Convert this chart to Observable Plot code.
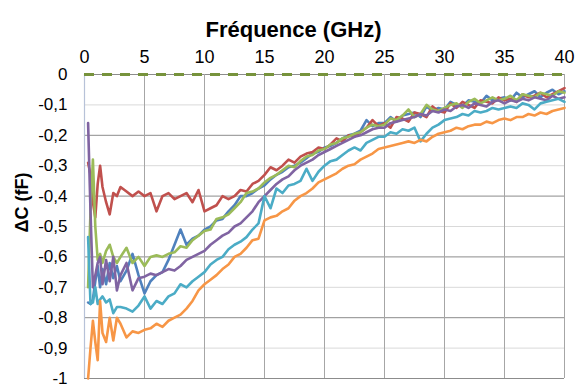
<!DOCTYPE html>
<html>
<head>
<meta charset="utf-8">
<script src="https://cdn.jsdelivr.net/npm/d3@7"></script>
<script src="https://cdn.jsdelivr.net/npm/@observablehq/plot@0.6"></script>
<style>
  html, body { margin: 0; padding: 0; background: #fff; }
  #chart svg { display: block; font-family: "Liberation Sans", Arial, sans-serif; }
</style>
</head>
<body>
<div id="chart"></div>
<script>
const title = "Fréquence (GHz)";
const yLabel = "ΔC (fF)";
const xTicks = [0, 5, 10, 15, 20, 25, 30, 35, 40];
const yTicks = [-1, -0.9, -0.8, -0.7, -0.6, -0.5, -0.4, -0.3, -0.2, -0.1, 0];
const yTickLabels = ["-1", "-0,9", "-0,8", "-0,7", "-0,6", "-0,5", "-0,4", "-0,3", "-0,2", "-0,1", "0"];

const freq = [0.3,0.5,0.7,0.9,1.1,1.3,1.5,1.8,2.1,2.4,2.7,
  3,3.5,4,4.5,5,5.5,6,6.5,7,7.5,8,8.5,9,9.5,10,10.5,11,11.5,12,12.5,13,13.5,14,14.5,
  15,15.5,16,16.5,17,17.5,18,18.5,19,19.5,20,20.5,21,21.5,22,22.5,23,23.5,24,24.5,
  25,25.5,26,26.5,27,27.5,28,28.5,29,29.5,30,30.5,31,31.5,32,32.5,33,33.5,34,34.5,
  35,35.5,36,36.5,37,37.5,38,38.5,39,39.5,40];

const seriesA = [-0.75,-0.755,-0.74,-0.68,-0.63,-0.70,-0.64,-0.69,-0.62,-0.67,-0.63,
  -0.68,-0.645,-0.59,-0.66,-0.72,-0.68,-0.66,-0.65,-0.61,-0.56,-0.51,-0.56,-0.54,-0.53,-0.51,-0.50,-0.48,-0.475,-0.45,-0.43,-0.40,-0.40,-0.39,-0.375,
  -0.365,-0.345,-0.33,-0.32,-0.305,-0.30,-0.29,-0.275,-0.26,-0.255,-0.24,-0.235,-0.225,-0.21,-0.20,-0.195,-0.185,-0.15,-0.17,-0.16,
  -0.16,-0.14,-0.155,-0.135,-0.13,-0.125,-0.14,-0.105,-0.12,-0.11,-0.115,-0.09,-0.10,-0.105,-0.085,-0.09,-0.095,-0.07,-0.085,-0.08,
  -0.075,-0.085,-0.06,-0.075,-0.065,-0.055,-0.075,-0.06,-0.05,-0.065,-0.055];

const seriesB = [-0.29,-0.33,-0.42,-0.47,-0.36,-0.30,-0.37,-0.42,-0.46,-0.39,-0.40,
  -0.37,-0.385,-0.40,-0.385,-0.40,-0.39,-0.45,-0.40,-0.39,-0.41,-0.40,-0.39,-0.42,-0.38,-0.45,-0.44,-0.43,-0.40,-0.41,-0.40,-0.38,-0.385,-0.36,-0.35,
  -0.33,-0.305,-0.315,-0.30,-0.28,-0.29,-0.27,-0.26,-0.255,-0.24,-0.245,-0.23,-0.21,-0.22,-0.20,-0.205,-0.19,-0.175,-0.15,-0.17,
  -0.16,-0.175,-0.14,-0.145,-0.155,-0.125,-0.13,-0.14,-0.105,-0.12,-0.125,-0.095,-0.11,-0.09,-0.10,-0.11,-0.085,-0.09,-0.095,-0.075,
  -0.085,-0.08,-0.09,-0.065,-0.075,-0.07,-0.06,-0.075,-0.065,-0.055,-0.045];

const seriesC = [-0.70,-0.45,-0.28,-0.50,-0.61,-0.59,-0.62,-0.58,-0.56,-0.60,-0.62,
  -0.60,-0.57,-0.62,-0.60,-0.63,-0.60,-0.595,-0.60,-0.59,-0.585,-0.565,-0.57,-0.545,-0.53,-0.515,-0.51,-0.475,-0.47,-0.46,-0.44,-0.42,-0.39,-0.385,-0.375,
  -0.355,-0.34,-0.33,-0.315,-0.30,-0.305,-0.285,-0.27,-0.265,-0.25,-0.245,-0.23,-0.225,-0.21,-0.205,-0.195,-0.19,-0.175,-0.165,-0.17,
  -0.165,-0.145,-0.15,-0.135,-0.115,-0.14,-0.13,-0.10,-0.115,-0.12,-0.11,-0.10,-0.095,-0.11,-0.09,-0.08,-0.095,-0.085,-0.075,-0.085,
  -0.08,-0.07,-0.085,-0.065,-0.07,-0.075,-0.06,-0.065,-0.07,-0.055,-0.06];

const seriesD = [-0.16,-0.45,-0.70,-0.66,-0.62,-0.60,-0.69,-0.61,-0.68,-0.60,-0.71,
  -0.66,-0.62,-0.71,-0.67,-0.665,-0.655,-0.66,-0.65,-0.64,-0.645,-0.63,-0.61,-0.60,-0.59,-0.58,-0.56,-0.545,-0.53,-0.52,-0.50,-0.49,-0.47,-0.45,-0.42,
  -0.40,-0.38,-0.36,-0.345,-0.335,-0.315,-0.30,-0.29,-0.28,-0.265,-0.255,-0.245,-0.235,-0.225,-0.215,-0.205,-0.20,-0.19,-0.18,-0.175,
  -0.175,-0.16,-0.155,-0.15,-0.145,-0.14,-0.13,-0.135,-0.12,-0.125,-0.115,-0.12,-0.105,-0.10,-0.11,-0.095,-0.10,-0.105,-0.09,-0.085,
  -0.095,-0.085,-0.09,-0.08,-0.085,-0.075,-0.08,-0.085,-0.07,-0.08,-0.075];

const seriesE = [-0.535,-0.755,-0.75,-0.70,-0.755,-0.74,-0.73,-0.75,-0.74,-0.785,-0.765,
  -0.765,-0.77,-0.78,-0.76,-0.73,-0.77,-0.745,-0.755,-0.73,-0.72,-0.69,-0.70,-0.68,-0.665,-0.65,-0.625,-0.61,-0.60,-0.575,-0.56,-0.55,-0.535,-0.51,-0.49,
  -0.40,-0.44,-0.375,-0.39,-0.365,-0.36,-0.35,-0.31,-0.35,-0.32,-0.30,-0.285,-0.28,-0.265,-0.25,-0.24,-0.25,-0.225,-0.215,-0.205,
  -0.205,-0.19,-0.195,-0.18,-0.185,-0.175,-0.22,-0.195,-0.175,-0.165,-0.15,-0.145,-0.14,-0.13,-0.135,-0.12,-0.125,-0.12,-0.11,-0.115,
  -0.11,-0.105,-0.11,-0.095,-0.10,-0.115,-0.095,-0.09,-0.085,-0.08,-0.09];

const seriesF = [-1.0,-0.90,-0.81,-0.88,-0.94,-0.745,-0.85,-0.88,-0.80,-0.875,-0.80,
  -0.82,-0.865,-0.845,-0.85,-0.84,-0.835,-0.82,-0.83,-0.81,-0.80,-0.79,-0.77,-0.745,-0.71,-0.69,-0.675,-0.66,-0.64,-0.625,-0.60,-0.59,-0.57,-0.545,-0.54,
  -0.48,-0.47,-0.465,-0.45,-0.44,-0.415,-0.40,-0.39,-0.375,-0.355,-0.345,-0.335,-0.325,-0.31,-0.30,-0.295,-0.28,-0.27,-0.26,-0.245,
  -0.24,-0.235,-0.23,-0.225,-0.22,-0.225,-0.215,-0.22,-0.205,-0.195,-0.19,-0.185,-0.175,-0.18,-0.17,-0.165,-0.165,-0.155,-0.16,-0.15,
  -0.145,-0.15,-0.14,-0.14,-0.13,-0.135,-0.125,-0.13,-0.12,-0.115,-0.11];

const seriesNames = ["S1", "S2", "S3", "S4", "S5", "S6"];
const seriesValues = [seriesA, seriesB, seriesC, seriesD, seriesE, seriesF];
const seriesColors = ["#4F81BD", "#C0504D", "#9BBB59", "#8064A2", "#4BACC6", "#F79646"];
const zeroLevel = [0];

const table = [];
seriesNames.forEach((name, i) => {
  seriesValues[i].forEach((v, j) => table.push({s: name, f: freq[j], v}));
});

const majorY = yTicks.filter((d, i) => i % 2 === 0);
const minorY = yTicks.filter((d, i) => i % 2 === 1);
const fmtY = d => yTickLabels[yTicks.findIndex(t => Math.abs(t - d) < 1e-9)];

const chart = Plot.plot({
  width: 575,
  height: 385,
  marginTop: 74,
  marginLeft: 84,
  marginRight: 11,
  marginBottom: 7,
  x: {domain: [0, 40]},
  y: {domain: [-1, 0]},
  color: {domain: seriesNames, range: seriesColors},
  marks: [
    Plot.gridY(minorY, {stroke: "#d9d9d9", strokeOpacity: 1}),
    Plot.gridY(majorY, {stroke: "#8c8c8c", strokeOpacity: 1}),
    Plot.gridX(xTicks, {stroke: "#a6a6a6", strokeOpacity: 1}),
    Plot.ruleX([0], {stroke: "#b7c2d8", strokeWidth: 1.2}),
    Plot.axisX(xTicks, {anchor: "top", tickSize: 0, tickPadding: 12, fontSize: 18, label: null, tickFormat: d => String(d), fill: "#000"}),
    Plot.axisY(yTicks, {anchor: "left", tickSize: 0, tickPadding: 17, fontSize: 17, label: null, tickFormat: fmtY, fill: "#000"}),
    Plot.line(table, {x: "f", y: "v", z: "s", stroke: "s", strokeWidth: 2.6, strokeLinejoin: "round", strokeLinecap: "round"}),
    Plot.ruleY(zeroLevel, {stroke: "#77933C", strokeWidth: 3, strokeDasharray: "10,8"}),
    Plot.text([title], {frameAnchor: "top", dx: -31, dy: -53, fontSize: 22, fontWeight: "bold", fill: "#000"}),
    Plot.text([yLabel], {frameAnchor: "left", dx: -62, dy: 6, rotate: -90, fontSize: 18, fontWeight: "bold", fill: "#000"})
  ]
});
document.getElementById("chart").appendChild(chart);
</script>
</body>
</html>
